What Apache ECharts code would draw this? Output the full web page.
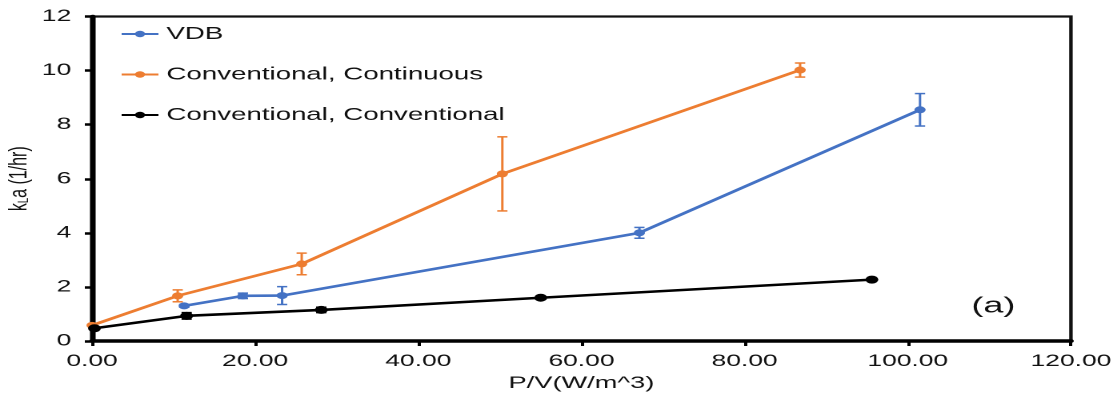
<!DOCTYPE html>
<html>
<head>
<meta charset="utf-8">
<script src="https://cdn.jsdelivr.net/npm/echarts@6/dist/echarts.min.js"></script>
<style>
html,body{margin:0;padding:0;background:#fff;}
#wrap{width:1117px;height:398px;overflow:hidden;position:relative;}
#chart{width:698px;height:398px;transform:scaleX(1.6003);transform-origin:0 0;}
</style>
</head>
<body>
<div id="wrap"><div id="chart"></div></div>
<script>
// Data
const seriesNames = ['VDB', 'Conventional, Continuous', 'Conventional, Conventional'];
const vdbX = [11.3, 18.5, 23.3, 67.1, 101.5];
const vdbY = [1.3, 1.67, 1.68, 4.0, 8.55];
const vdbErr = [0.05, 0.1, 0.33, 0.2, 0.6];
const contX = [0, 10.5, 25.7, 50.3, 86.8];
const contY = [0.58, 1.67, 2.85, 6.18, 10.02];
const contErr = [0, 0.22, 0.4, 1.37, 0.26];
const convX = [0.3, 11.6, 28.1, 55.0, 95.6];
const convY = [0.47, 0.93, 1.15, 1.6, 2.27];
const convErr = [0.03, 0.12, 0.1, 0.05, 0.03];
const colors = ['#4472C4', '#ED7D31', '#000000'];

const FONT = '"Liberation Sans", Arial, sans-serif';
const chart = echarts.init(document.getElementById('chart'), null, {renderer: 'canvas', devicePixelRatio: 2});

function pairs(xs, ys) { return xs.map((x, i) => [x, ys[i]]); }
function errData(xs, ys, es) { return xs.map((x, i) => [x, ys[i] - es[i], ys[i] + es[i]]); }

function errSeries(xs, ys, es, color) {
  return {
    type: 'custom',
    z: 3,
    silent: true,
    data: errData(xs, ys, es),
    encode: {x: 0, y: [1, 2]},
    renderItem: function (params, api) {
      const lo = api.coord([api.value(0), api.value(1)]);
      const hi = api.coord([api.value(0), api.value(2)]);
      if (Math.abs(hi[1] - lo[1]) < 1) return null;
      const cap = 3.2;
      const st = {stroke: color, lineWidth: 1.5};
      return {
        type: 'group',
        children: [
          {type: 'line', shape: {x1: lo[0], y1: lo[1], x2: hi[0], y2: hi[1]}, style: st},
          {type: 'line', shape: {x1: lo[0] - cap, y1: lo[1], x2: lo[0] + cap, y2: lo[1]}, style: st},
          {type: 'line', shape: {x1: hi[0] - cap, y1: hi[1], x2: hi[0] + cap, y2: hi[1]}, style: st}
        ]
      };
    }
  };
}

function lineSeries(name, xs, ys, color, size) {
  return {
    name: name,
    type: 'line',
    data: pairs(xs, ys),
    symbol: 'circle',
    symbolSize: size,
    showSymbol: true,
    z: 2,
    itemStyle: {color: color},
    lineStyle: {color: color, width: 2.6}
  };
}

const option = {
  animation: false,
  backgroundColor: '#fff',
  textStyle: {fontFamily: FONT},
  grid: {left: 57.5, right: 28.8, top: 16.5, bottom: 57, show: true, borderColor: '#111', borderWidth: 2.2, containLabel: false, outerBoundsMode: 'none'},
  legend: {
    data: seriesNames,
    orient: 'vertical',
    left: 70,
    top: 19,
    padding: 5,
    itemWidth: 23,
    itemHeight: 8,
    itemGap: 20.5,
    textStyle: {fontFamily: FONT, fontSize: 17.3, color: '#111', lineHeight: 20}
  },
  xAxis: {
    type: 'value',
    min: 0, max: 120, interval: 20,
    name: 'P/V(W/m^3)',
    nameLocation: 'middle',
    nameGap: 34,
    nameMoveOverlap: false,
    nameTextStyle: {fontFamily: FONT, fontSize: 17, color: '#111'},
    axisLine: {show: true, onZero: false, lineStyle: {color: '#000', width: 3.5}},
    axisTick: {show: true, inside: false, length: 5, lineStyle: {color: '#000', width: 2}},
    axisLabel: {margin: 12, fontFamily: FONT, fontSize: 16.5, color: '#111', formatter: v => v.toFixed(2)},
    splitLine: {show: false}
  },
  yAxis: {
    type: 'value',
    min: 0, max: 12, interval: 2,
    name: 'k{sub|L}a (1/hr)',
    nameLocation: 'middle',
    nameRotate: 90,
    nameGap: 37.5,
    nameMoveOverlap: false,
    nameTextStyle: {fontFamily: FONT, fontSize: 16, color: '#111', rich: {sub: {fontFamily: FONT, fontSize: 9.5, color: '#111', verticalAlign: 'bottom', padding: [6, 0, 0, 0]}}},
    axisLine: {show: true, onZero: false, lineStyle: {color: '#000', width: 3.5}},
    axisTick: {show: true, inside: false, length: 4.5, lineStyle: {color: '#000', width: 2.5}},
    axisLabel: {margin: 13, fontFamily: FONT, fontSize: 16.5, color: '#111'},
    splitLine: {show: false}
  },
  graphic: [{
    type: 'text',
    left: 607,
    top: 295,
    style: {text: '(a)', font: '22.5px ' + FONT, fill: '#111'}
  }],
  series: [
    lineSeries(seriesNames[0], vdbX, vdbY, colors[0], 7),
    lineSeries(seriesNames[1], contX, contY, colors[1], 7),
    lineSeries(seriesNames[2], convX, convY, colors[2], 8),
    errSeries(vdbX, vdbY, vdbErr, colors[0]),
    errSeries(contX, contY, contErr, colors[1]),
    errSeries(convX, convY, convErr, colors[2])
  ]
};
chart.setOption(option);
</script>
</body>
</html>
